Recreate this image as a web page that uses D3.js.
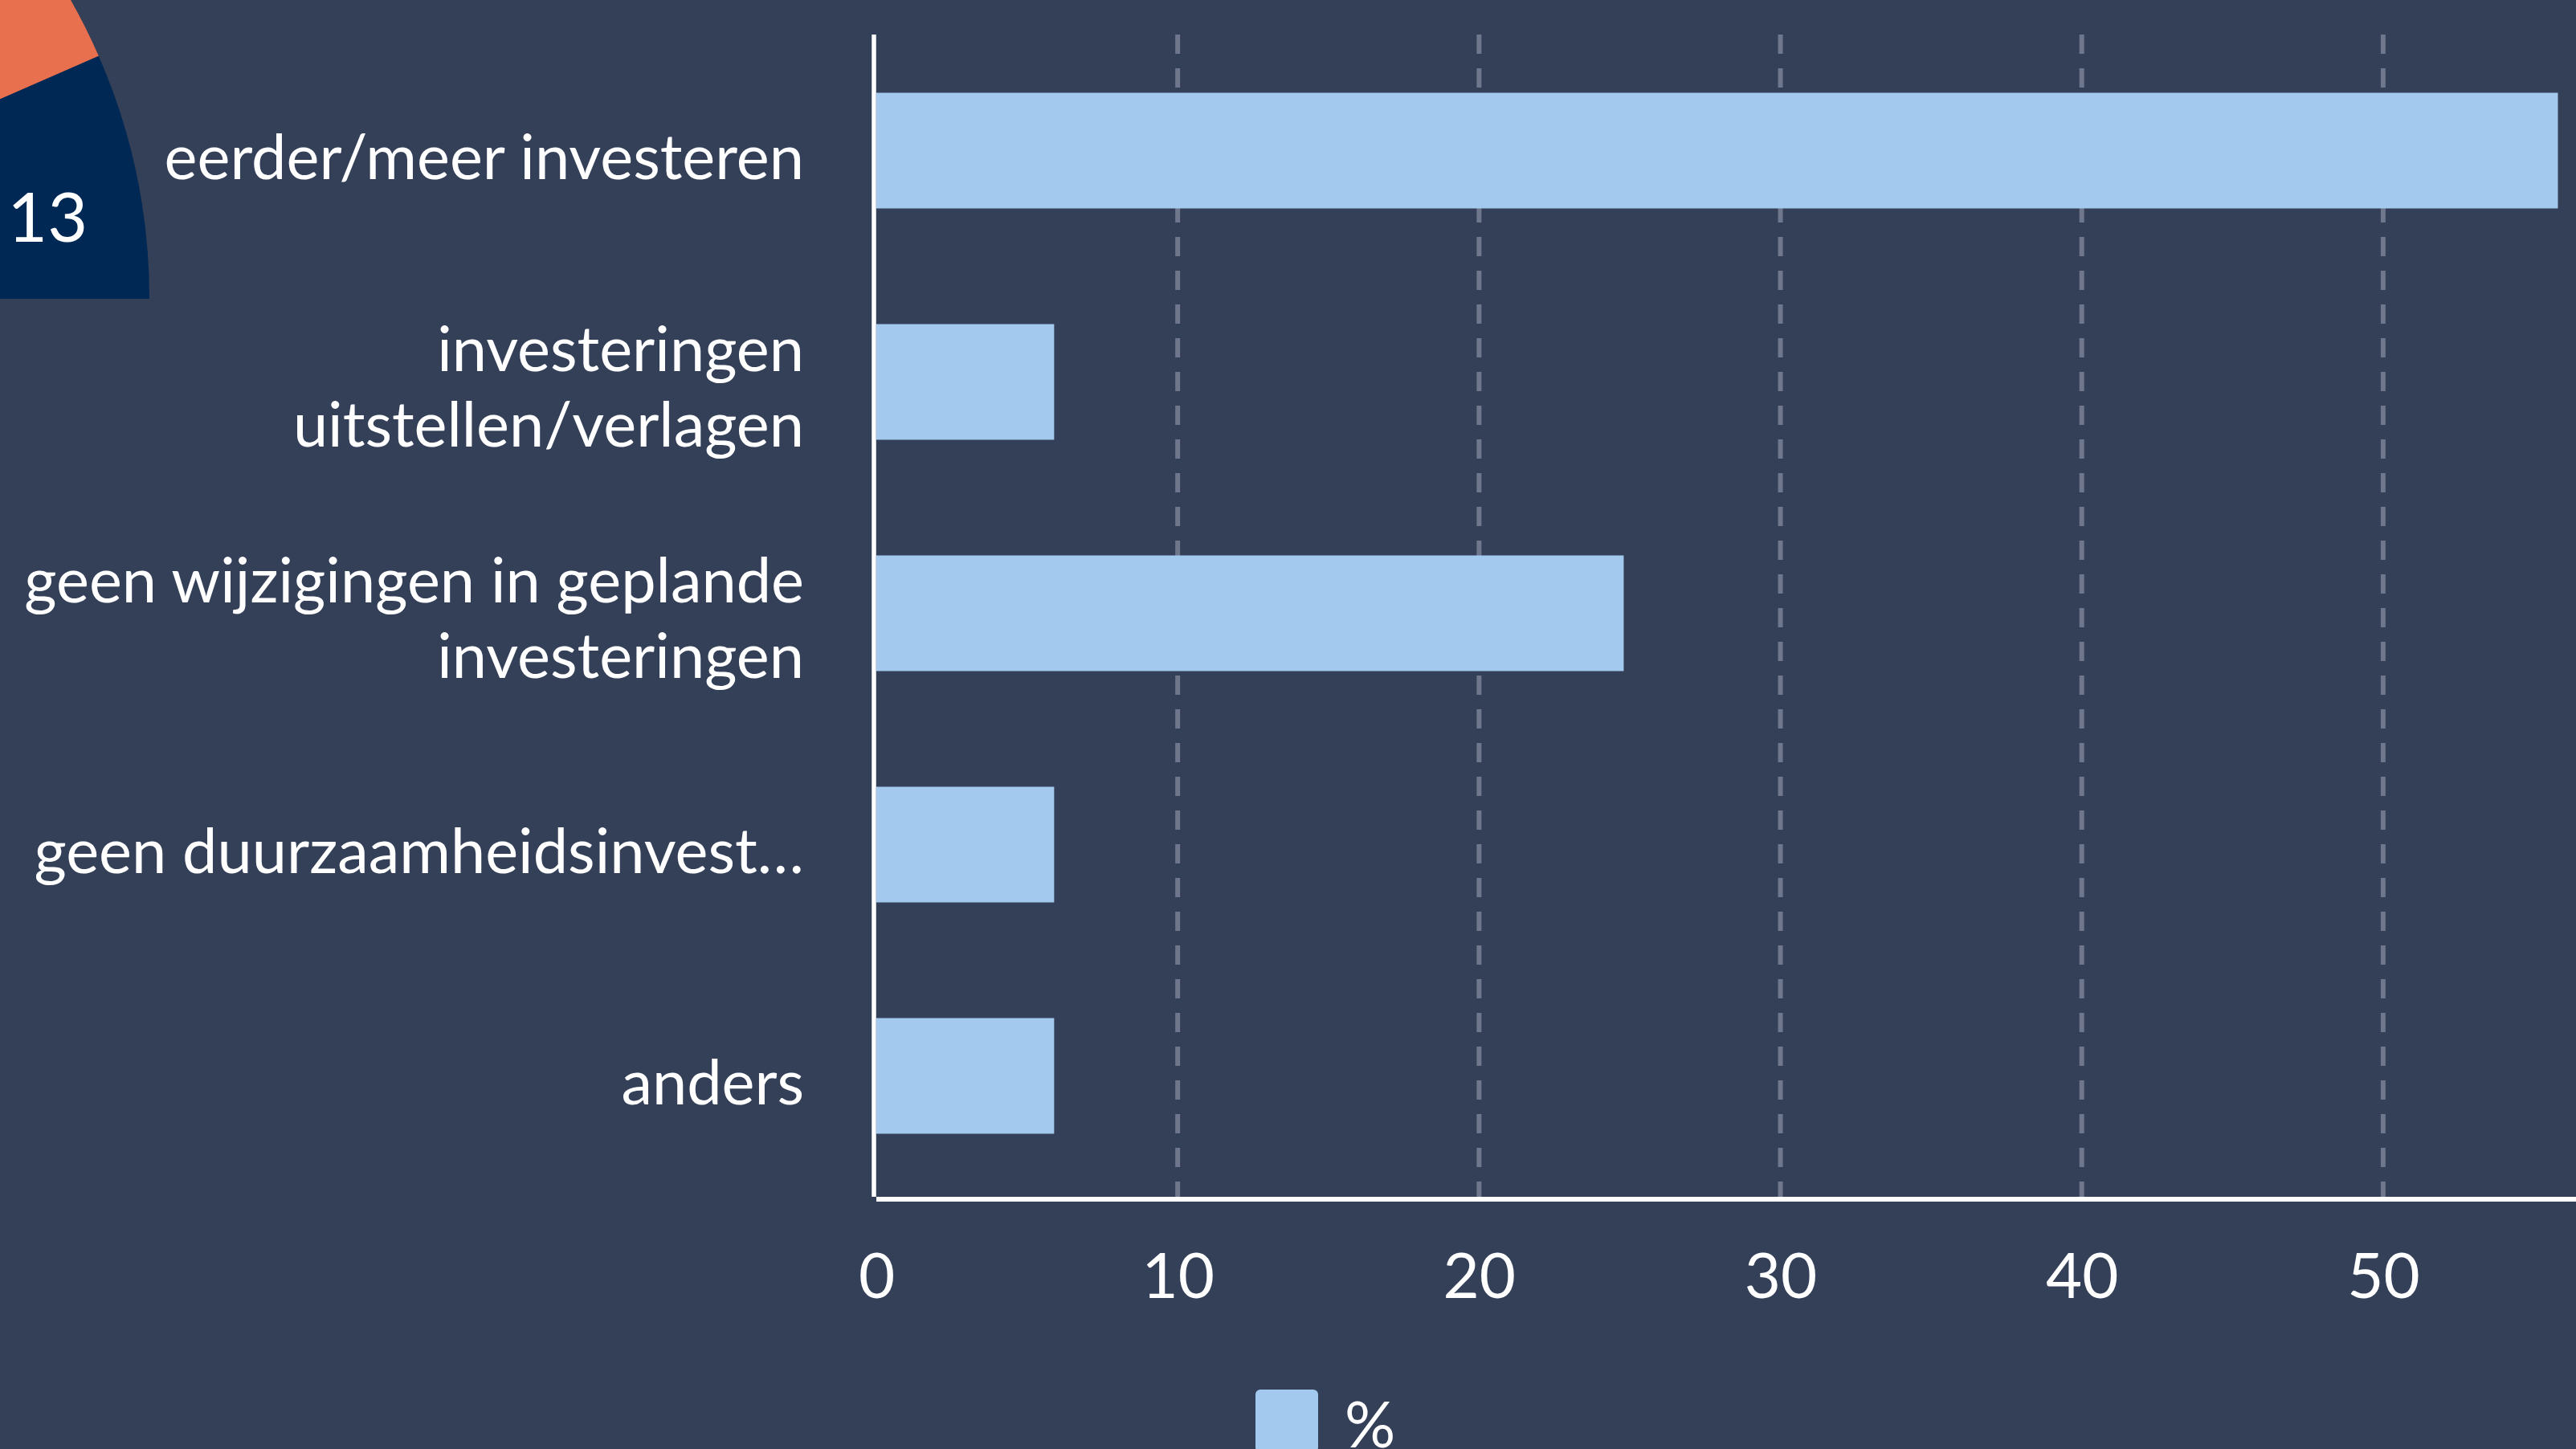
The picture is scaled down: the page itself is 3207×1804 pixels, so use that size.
<!DOCTYPE html>
<html><head><meta charset="utf-8">
<script src="https://cdn.jsdelivr.net/npm/d3@7"></script>
<style>
html,body{margin:0;padding:0;background:#343f58;overflow:hidden}
svg{display:block}
text{font-family:Lato,"Open Sans",sans-serif;fill:#ffffff}
</style></head>
<body>
<script>
// ---- data ----
const categories = [
  ["eerder/meer investeren"],
  ["investeringen", "uitstellen/verlagen"],
  ["geen wijzigingen in geplande", "investeringen"],
  ["geen duurzaamheidsinvest…"],
  ["anders"]
];
const values = [55.8, 5.9, 24.8, 5.9, 5.9];
const xTicks = [0, 10, 20, 30, 40, 50];
const seriesName = "%";
// fragment of a neighbouring pie chart (cropped at the top-left)
const pieValues = [27, 13];
const pieLabels = ["", "13"];
const pieColors = ["#e8704f", "#002855"];

// ---- layout ----
const W = 3207, H = 1804;
const svg = d3.select("body").append("svg").attr("width", W).attr("height", H);
svg.append("rect").attr("width", W).attr("height", H).attr("fill", "#343f58");

// pie fragment
const pieR = 755;
const pie = d3.pie().sort(null).value(d => d)
  .startAngle(Math.PI / 2 - (pieValues[0] + pieValues[1]) / pieValues[1] * (23.6 * Math.PI / 180))
  .endAngle(Math.PI / 2);
const arcs = pie(pieValues);
const arc = d3.arc().innerRadius(0).outerRadius(pieR);
const labelArc = d3.arc().innerRadius(pieR * 0.85).outerRadius(pieR * 0.85);
const pg = svg.append("g").attr("transform", "translate(-569,372)");
pg.selectAll("path").data(arcs).join("path")
  .attr("d", arc).attr("fill", (d, i) => pieColors[i]);
pg.selectAll("text").data(arcs).join("text")
  .attr("x", d => labelArc.centroid(d)[0])
  .attr("y", d => labelArc.centroid(d)[1])
  .attr("dy", "0.7em")
  .attr("text-anchor", "middle")
  .style("font-size", "86px")
  .text((d, i) => pieLabels[i]);

// bar chart
const x = d3.scaleLinear().domain([0, 56.4]).range([1091, 3207]);
const y = d3.scaleBand().domain(d3.range(categories.length))
  .range([43.5, 1483.5]).paddingInner(0.5).paddingOuter(0.25);
const axisY = 1493;

// grid
svg.append("g").selectAll("line").data(xTicks.filter(t => t > 0)).join("line")
  .attr("x1", d => x(d)).attr("x2", d => x(d))
  .attr("y1", 43).attr("y2", axisY - 3)
  .attr("stroke", "#6e778b").attr("stroke-width", 6)
  .attr("stroke-dasharray", "24 18");

// bars
svg.append("g").selectAll("rect").data(values).join("rect")
  .attr("x", x(0)).attr("y", (d, i) => y(i))
  .attr("width", d => x(d) - x(0)).attr("height", y.bandwidth())
  .attr("fill", "#a3caee");

// axes lines
svg.append("line").attr("x1", x(0) - 3).attr("x2", x(0) - 3)
  .attr("y1", 43).attr("y2", axisY - 3)
  .attr("stroke", "#ffffff").attr("stroke-width", 5.5);
svg.append("line").attr("x1", x(0)).attr("x2", W)
  .attr("y1", axisY).attr("y2", axisY)
  .attr("stroke", "#ffffff").attr("stroke-width", 6);

// x tick labels
const xAxis = d3.axisBottom(x).tickValues(xTicks).tickSize(0).tickPadding(0);
const gx = svg.append("g").attr("transform", `translate(0,${axisY})`).call(xAxis);
gx.select(".domain").remove();
gx.selectAll("text").attr("y", 123).attr("dy", 0)
  .style("font-size", "78px").style("font-family", "Lato").attr("fill", "#ffffff");

// category labels
const lg = svg.append("g");
categories.forEach((lines, i) => {
  const c = y(i) + y.bandwidth() / 2;
  const t = lg.append("text").attr("text-anchor", "end").style("font-size", "77.5px");
  const lh = 94;
  lines.forEach((ln, j) => {
    t.append("tspan").attr("x", 1001)
      .attr("y", c + 35 + (j - (lines.length - 1) / 2) * lh - (lines.length > 1 ? 2 : 0))
      .text(ln);
  });
});

// legend
svg.append("rect").attr("x", 1563).attr("y", 1730).attr("width", 78).attr("height", 78)
  .attr("rx", 6).attr("fill", "#a3caee");
svg.append("text").attr("x", 1674).attr("y", 1802).style("font-size", "79px").text(seriesName);
</script>
</body></html>
